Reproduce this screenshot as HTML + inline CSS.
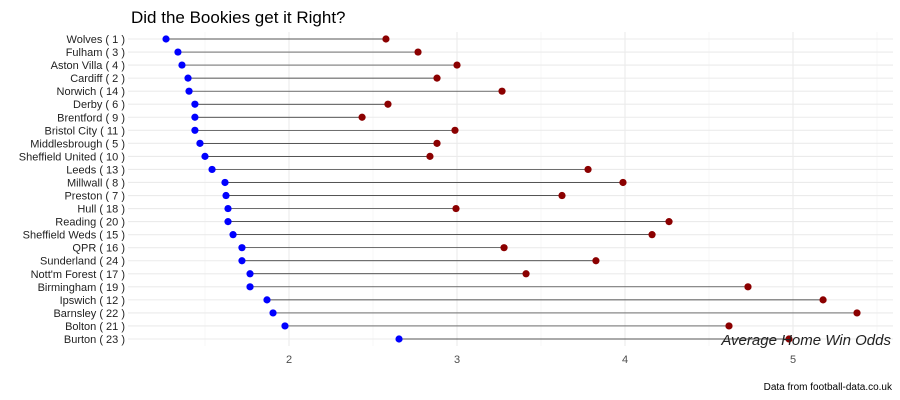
<!DOCTYPE html>
<html><head><meta charset="utf-8"><style>
body{margin:0;background:#fff;}
svg{display:block;font-family:"Liberation Sans",sans-serif;}
</style></head><body>
<svg id="chart" width="900" height="400">
<rect width="900" height="400" fill="#fff"/>
<text x="131" y="23" font-size="17" fill="#000">Did the Bookies get it Right?</text>
<g id="grid"></g><g id="marks"></g><g id="labels"></g>
<text x="891" y="345" font-size="15" font-style="italic" text-anchor="end" fill="#222">Average Home Win Odds</text>
<text x="892" y="390" font-size="10" text-anchor="end" fill="#000">Data from football-data.co.uk</text>
</svg>
<script>
const teams=["Wolves ( 1 )","Fulham ( 3 )","Aston Villa ( 4 )","Cardiff ( 2 )","Norwich ( 14 )","Derby ( 6 )","Brentford ( 9 )","Bristol City ( 11 )","Middlesbrough ( 5 )","Sheffield United ( 10 )","Leeds ( 13 )","Millwall ( 8 )","Preston ( 7 )","Hull ( 18 )","Reading ( 20 )","Sheffield Weds ( 15 )","QPR ( 16 )","Sunderland ( 24 )","Nott'm Forest ( 17 )","Birmingham ( 19 )","Ipswich ( 12 )","Barnsley ( 22 )","Bolton ( 21 )","Burton ( 23 )"];
const preOdds=[1.268,1.339,1.363,1.399,1.405,1.44,1.44,1.44,1.47,1.5,1.542,1.619,1.625,1.637,1.637,1.667,1.72,1.72,1.768,1.768,1.869,1.905,1.976,2.655];
const actualOdds=[2.577,2.768,3.0,2.881,3.268,2.589,2.435,2.988,2.881,2.839,3.78,3.988,3.625,2.994,4.262,4.161,3.28,3.827,3.411,4.732,5.179,5.381,4.619,4.976];
const xTicks=[2,3,4,5];
const xMinor=[1.5,2.5,3.5,4.5,5.5];
const NS="http://www.w3.org/2000/svg";
const L=128,R=893,T=32,B=346;
const x=v=>289+(v-2)*168;
const y=i=>39+i*(300/23);
function mk(t,a,p){const e=document.createElementNS(NS,t);for(const k in a)e.setAttribute(k,a[k]);p.appendChild(e);return e;}
const g=document.getElementById('grid'),m=document.getElementById('marks'),lb=document.getElementById('labels');
xMinor.forEach(v=>{if(x(v)>L&&x(v)<R){const l=mk('line',{x1:x(v),x2:x(v),y1:T,y2:B,stroke:'#f2f2f2','stroke-width':0.6},g);

}});
xTicks.forEach(v=>{const l=mk('line',{x1:x(v),x2:x(v),y1:T,y2:B,stroke:'#ebebeb','stroke-width':1.1},g);


const t=mk('text',{x:x(v),y:363,'font-size':11,'text-anchor':'middle',fill:'#4d4d4d'},lb);t.textContent=v;

});
teams.forEach((n,i)=>{const yy=y(i);
const gl=mk('line',{x1:L,x2:R,y1:yy,y2:yy,stroke:'#ebebeb','stroke-width':1.1},g);


const t=mk('text',{x:125,y:yy+4,'font-size':11,'text-anchor':'end',fill:'#222'},lb);t.textContent=n;


const ln=mk('line',{x1:x(preOdds[i]),x2:x(actualOdds[i]),y1:yy,y2:yy,stroke:'#222','stroke-width':0.7},m);


const b=mk('circle',{cx:x(preOdds[i]),cy:yy,r:3.6,fill:'#0000ff'},m);


const r=mk('circle',{cx:x(actualOdds[i]),cy:yy,r:3.6,fill:'#8b0000'},m);

});
</script>
</body></html>
